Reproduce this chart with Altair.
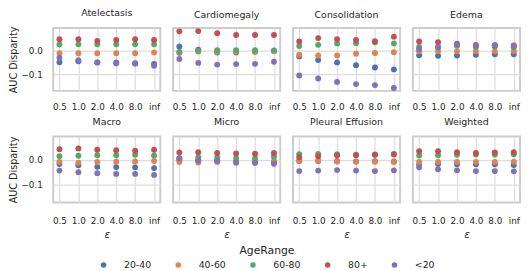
import altair as alt
import pandas as pd

eps = ["0.5", "1.0", "2.0", "4.0", "8.0", "inf"]
groups = ["20-40", "40-60", "60-80", "80+", "<20"]
colors = ["#4C72B0", "#DD8452", "#55A868", "#C44E52", "#8172B3"]
panels_top = ["Atelectasis", "Cardiomegaly", "Consolidation", "Edema"]
panels_bottom = ["Macro", "Micro", "Pleural Effusion", "Weighted"]

atelectasis = {
    "20-40": [-0.050, -0.046, -0.051, -0.051, -0.054, -0.057],
    "40-60": [-0.013, -0.013, -0.013, -0.013, -0.013, -0.010],
    "60-80": [0.024, 0.024, 0.024, 0.024, 0.024, 0.024],
    "80+": [0.045, 0.045, 0.038, 0.042, 0.045, 0.042],
    "<20": [-0.031, -0.042, -0.051, -0.055, -0.057, -0.065],
}
cardiomegaly = {
    "20-40": [0.015, 0.002, -0.010, -0.010, -0.007, -0.003],
    "40-60": [-0.012, -0.006, -0.007, -0.007, -0.007, -0.004],
    "60-80": [-0.008, -0.003, 0.000, 0.000, 0.000, -0.001],
    "80+": [0.078, 0.079, 0.070, 0.063, 0.063, 0.063],
    "<20": [-0.037, -0.053, -0.060, -0.058, -0.057, -0.048],
}
consolidation = {
    "20-40": [-0.026, -0.041, -0.051, -0.063, -0.072, -0.080],
    "40-60": [-0.019, -0.022, -0.022, -0.015, -0.012, -0.009],
    "60-80": [0.017, 0.022, 0.028, 0.029, 0.033, 0.028],
    "80+": [0.036, 0.050, 0.045, 0.042, 0.037, 0.056],
    "<20": [-0.105, -0.118, -0.132, -0.141, -0.145, -0.157],
}
edema = {
    "20-40": [-0.021, -0.023, -0.022, -0.019, -0.017, -0.017],
    "40-60": [-0.005, -0.005, -0.005, -0.005, -0.005, -0.004],
    "60-80": [0.013, 0.010, 0.018, 0.013, 0.015, 0.012],
    "80+": [0.036, 0.033, 0.027, 0.022, 0.020, 0.019],
    "<20": [0.005, 0.014, 0.023, 0.018, 0.020, 0.018],
}
macro = {
    "20-40": [-0.017, -0.022, -0.028, -0.029, -0.030, -0.033],
    "40-60": [-0.009, -0.012, -0.009, -0.008, -0.007, -0.005],
    "60-80": [0.014, 0.016, 0.018, 0.018, 0.020, 0.017],
    "80+": [0.042, 0.045, 0.040, 0.038, 0.036, 0.040],
    "<20": [-0.043, -0.049, -0.053, -0.056, -0.056, -0.060],
}
micro = {
    "20-40": [-0.001, -0.003, -0.004, -0.008, -0.009, -0.010],
    "40-60": [-0.009, -0.011, -0.009, -0.007, -0.005, -0.005],
    "60-80": [0.006, 0.009, 0.010, 0.006, 0.006, 0.013],
    "80+": [0.029, 0.030, 0.027, 0.025, 0.024, 0.027],
    "<20": [0.006, -0.003, -0.004, -0.012, -0.013, -0.016],
}
pleural = {
    "20-40": [-0.005, -0.005, -0.006, -0.007, -0.006, -0.007],
    "40-60": [-0.004, -0.004, -0.007, -0.008, -0.008, -0.009],
    "60-80": [0.022, 0.023, 0.022, 0.020, 0.021, 0.023],
    "80+": [0.010, 0.014, 0.017, 0.018, 0.020, 0.021],
    "<20": [-0.045, -0.043, -0.041, -0.043, -0.045, -0.042],
}
weighted = {
    "20-40": [-0.020, -0.017, -0.018, -0.018, -0.018, -0.021],
    "40-60": [-0.009, -0.009, -0.009, -0.009, -0.009, -0.008],
    "60-80": [0.017, 0.018, 0.020, 0.021, 0.021, 0.022],
    "80+": [0.034, 0.034, 0.030, 0.027, 0.029, 0.030],
    "<20": [-0.030, -0.038, -0.042, -0.045, -0.045, -0.046],
}

panel_data = {
    "Atelectasis": atelectasis,
    "Cardiomegaly": cardiomegaly,
    "Consolidation": consolidation,
    "Edema": edema,
    "Macro": macro,
    "Micro": micro,
    "Pleural Effusion": pleural,
    "Weighted": weighted,
}

rows = []
for pname, d in panel_data.items():
    for g in groups:
        for e, v in zip(eps, d[g]):
            rows.append({"Panel": pname, "Eps": e, "AgeRange": g, "Value": v})
df = pd.DataFrame(rows)

TEXT = "#262626"
FONT = "DejaVu Sans"


def panel(name, row, col):
    xaxis_kwargs = dict(
        labelAngle=0, grid=True, ticks=False, domain=False,
        labelFontSize=9, labelColor=TEXT, labelFont=FONT,
    )
    if row == 1:
        xaxis = alt.Axis(title="ε", titleFontSize=10.5, titleFontStyle="italic",
                         titleFontWeight="normal", titleColor=TEXT, titleFont=FONT,
                         titlePadding=4.5, labelPadding=14, **xaxis_kwargs)
        height = 67
        title_offset = 0
    else:
        xaxis = alt.Axis(title=None, labelPadding=11.5, **xaxis_kwargs)
        height = 64
        title_offset = -1.5
    if col == 0:
        yaxis = alt.Axis(values=[-0.1, 0.0], format=".1f", grid=True, ticks=False,
                         domain=False, labelFontSize=9, labelPadding=11,
                         labelColor=TEXT, labelFont=FONT,
                         title="AUC Disparity", titleFontSize=9.8,
                         titleFontWeight="normal", titleColor=TEXT, titleFont=FONT,
                         titlePadding=2)
    else:
        yaxis = alt.Axis(values=[-0.1, 0.0], grid=True, ticks=False, domain=False,
                         labels=False, title=None)
    return (
        alt.Chart(df)
        .transform_filter(alt.datum.Panel == name)
        .mark_circle(size=36, opacity=1)
        .encode(
            x=alt.X("Eps:N", sort=eps,
                    scale=alt.Scale(type="point", domain=eps, padding=0.33),
                    axis=xaxis),
            y=alt.Y("Value:Q",
                    scale=alt.Scale(domain=[-0.169, 0.092], nice=False, zero=False),
                    axis=yaxis),
            color=alt.Color(
                "AgeRange:N",
                scale=alt.Scale(domain=groups, range=colors),
                legend=alt.Legend(
                    title="AgeRange", orient="none", legendX=46.5, legendY=221,
                    direction="horizontal", columns=5, titleAnchor="middle",
                    titleFontSize=11, titleFontWeight="normal", titleColor=TEXT,
                    titleFont=FONT, titlePadding=4, padding=0,
                    labelFontSize=9.5, labelColor=TEXT, labelFont=FONT,
                    labelOffset=16, columnPadding=22, symbolSize=32,
                    symbolType="circle", symbolStrokeWidth=0,
                ),
            ),
        )
        .properties(
            width=109, height=height,
            title=alt.Title(name, fontSize=9.6, fontWeight="normal", color=TEXT,
                            font=FONT, offset=title_offset, baseline="bottom",
                            frame="group"),
        )
    )


charts = [panel(n, 0, i) for i, n in enumerate(panels_top)] + \
         [panel(n, 1, i) for i, n in enumerate(panels_bottom)]

chart = (
    alt.concat(*charts, columns=4, bounds="flush",
               spacing=alt.RowColnumber(row=46.5, column=13))
    .properties(padding={"left": 0, "top": -4, "right": 0, "bottom": 0})
    .configure_view(stroke="#cccccc", strokeWidth=2)
    .configure_axis(gridColor="#dddddd", gridWidth=1.2)
    .configure_legend(symbolOpacity=1)
)

chart.save("out.html", embed_options={"renderer": "svg", "actions": False})
